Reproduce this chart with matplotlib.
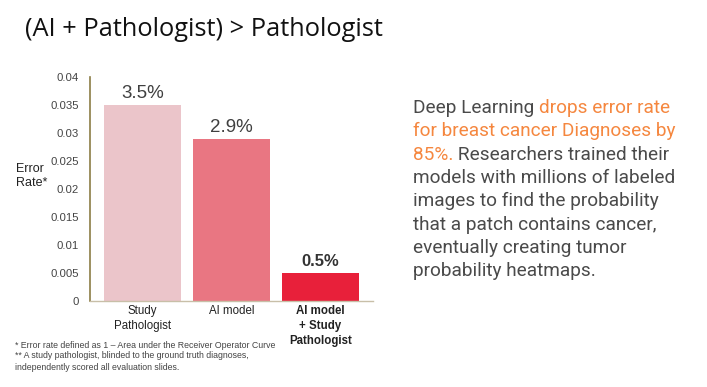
import matplotlib
matplotlib.use("Agg")
import matplotlib.pyplot as plt

categories = ["Study\nPathologist", "AI model", "AI model\n+ Study\nPathologist"]
values = [0.035, 0.029, 0.005]
value_labels = ["3.5%", "2.9%", "0.5%"]
bar_colors = ["#EBC5CA", "#E97682", "#E8203A"]
yticks = [0, 0.005, 0.01, 0.015, 0.02, 0.025, 0.03, 0.035, 0.04]
ytick_labels = ["0", "0.005", "0.01", "0.015", "0.02", "0.025", "0.03", "0.035", "0.04"]

title = "(AI + Pathologist) > Pathologist"
footnotes = ["* Error rate defined as 1 \u2013 Area under the Receiver Operator Curve",
             "** A study pathologist, blinded to the ground truth diagnoses,",
             "independently scored all evaluation slides."]
# paragraph lines: list of (text, is_highlight) segments
para = [
    [("Deep Learning ", False), ("drops error rate", True)],
    [("for breast cancer Diagnoses by", True)],
    [("85%.", True), (" Researchers trained their", False)],
    [("models with millions of labeled", False)],
    [("images to find the probability", False)],
    [("that a patch contains cancer,", False)],
    [("eventually creating tumor", False)],
    [("probability heatmaps.", False)],
]

W, H = 707, 387
fig = plt.figure(figsize=(W / 100, H / 100), dpi=100)
fig.patch.set_facecolor("white")

ax = fig.add_axes([90 / W, 1 - 301 / H, 283 / W, 224 / H])
x = list(range(len(categories)))
bars = ax.bar(x, values, width=0.865, color=bar_colors)
ax.set_xlim(-0.59, 2.59)
ax.set_ylim(0, 0.04)
ax.set_yticks(yticks)
ax.set_yticklabels(ytick_labels, fontsize=8.2, color="#444444", family="Liberation Sans")
ax.set_xticks(x)
ax.set_xticklabels(categories, fontsize=8.3, color="#222222", family="Liberation Sans",
                   linespacing=1.35)
ax.get_xticklabels()[2].set_fontweight("bold")
ax.tick_params(axis="both", length=0)
ax.tick_params(axis="y", pad=8)
ax.tick_params(axis="x", pad=3)
for s in ["top", "right"]:
    ax.spines[s].set_visible(False)
ax.spines["left"].set_color("#8B7D45")
ax.spines["left"].set_linewidth(1.2)
ax.spines["bottom"].set_color("#C8BFA8")
ax.spines["bottom"].set_linewidth(1.0)

for i, (v, lab) in enumerate(zip(values, value_labels)):
    if i == 2:
        ax.annotate(lab, (i, v), xytext=(0, 3), textcoords="offset points", ha="center",
                    va="bottom", fontsize=12, fontweight="bold", color="#333333",
                    family="Liberation Sans")
    else:
        ax.annotate(lab, (i, v), xytext=(0, 2), textcoords="offset points", ha="center",
                    va="bottom", fontsize=13.5, color="#404040", family="Liberation Sans")

fig.text(16 / W, 1 - 176 / H, "Error\nRate*", fontsize=9, color="#222222",
         family="Liberation Sans", ha="left", va="center", linespacing=1.2)

fig.text(25 / W, 1 - 30 / H, title, fontsize=18.3, color="#111111", family="Open Sans",
         ha="left", va="center")

for k, line in enumerate(footnotes):
    fig.text(15 / W, 1 - (345 + k * 11) / H, line, fontsize=6.3, color="#444444",
             family="Liberation Sans", ha="left", va="center")

# paragraph
ov = fig.add_axes([0, 0, 1, 1])
ov.set_axis_off()
ov.set_xlim(0, W)
ov.set_ylim(H, 0)
grey = "#4a4a4a"
orange = "#F5873F"
y0 = 108
dy = 23.3
for k, line in enumerate(para):
    prev = None
    for seg, hi in line:
        col = orange if hi else grey
        if prev is None:
            prev = ov.text(413, y0 + k * dy, seg, fontsize=13.7, color=col, family="Roboto",
                           ha="left", va="center")
        else:
            prev = ov.annotate(seg, xy=(1, 0.5), xycoords=prev, fontsize=13.7, color=col,
                               family="Roboto", ha="left", va="center")

fig.savefig("out.png", dpi=100)
